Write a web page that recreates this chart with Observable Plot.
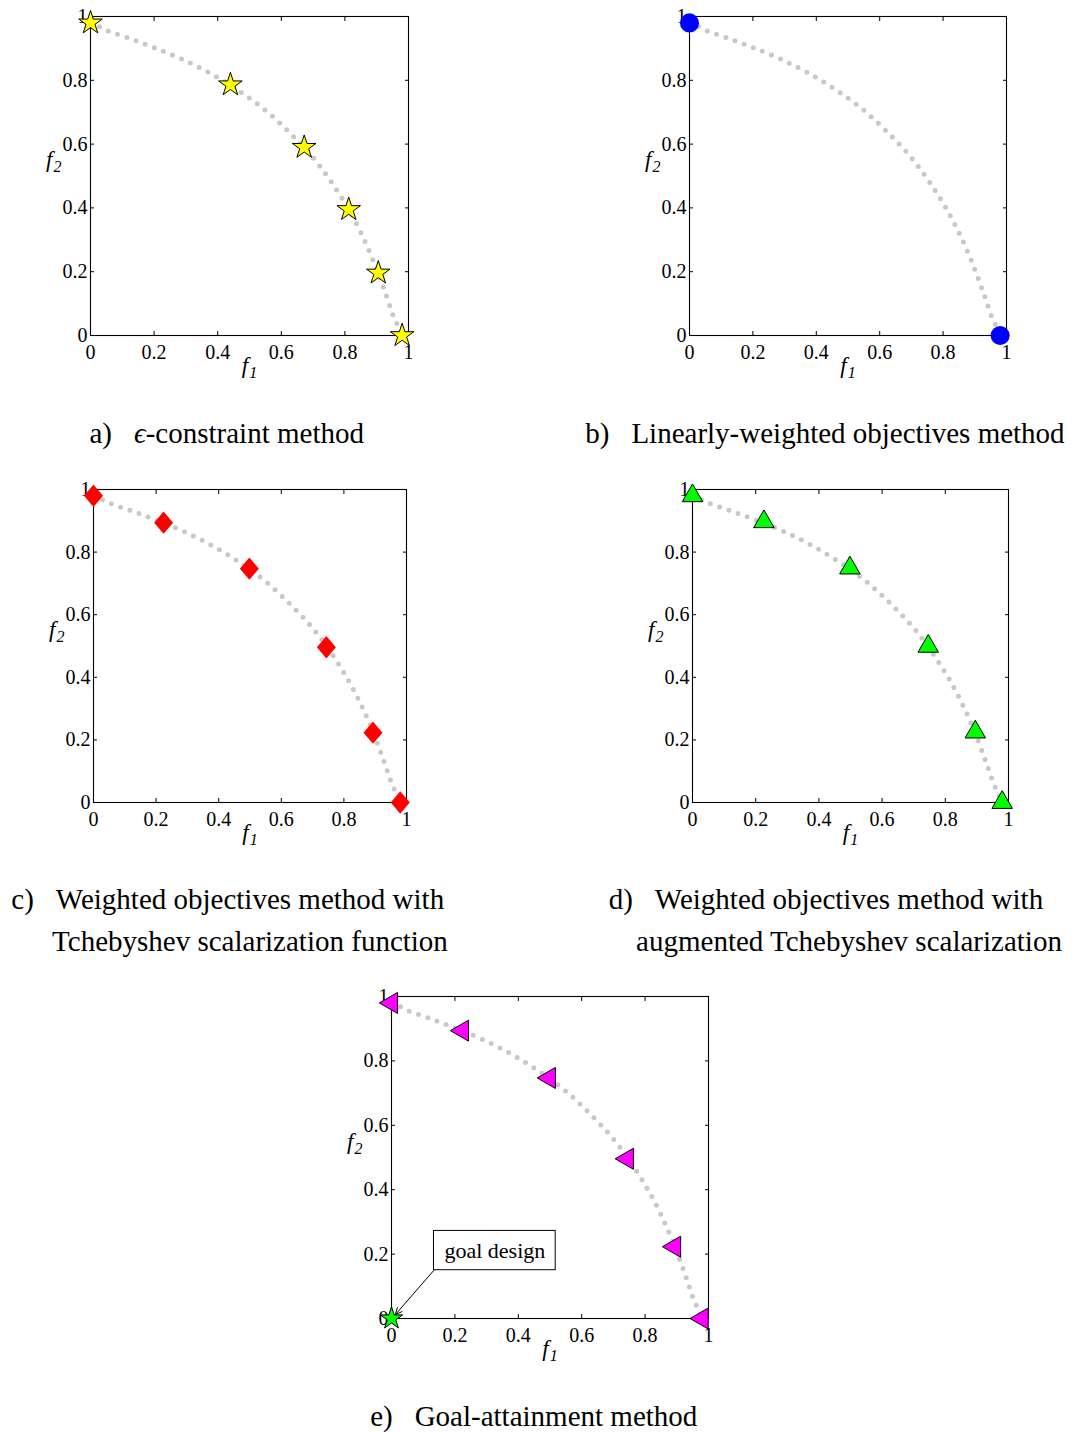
<!DOCTYPE html>
<html><head><meta charset="utf-8">
<script src="https://cdn.jsdelivr.net/npm/d3@7"></script>
<script src="https://cdn.jsdelivr.net/npm/@observablehq/plot@0.6"></script>
<style>
html,body{margin:0;padding:0;background:#fff;}
#page{position:relative;width:1075px;height:1432px;overflow:hidden;font-family:"Liberation Serif",serif;color:#000;}
.panel{position:absolute;}
.panel svg{overflow:visible;}
.cap{position:absolute;width:600px;text-align:center;font-size:29px;line-height:42px;}
.line{position:relative;display:inline-block;white-space:nowrap;}
.lab{position:absolute;right:100%;margin-right:22px;}
</style></head><body><div id="page"></div>
<script>
// ---- data ----
const tickValues = [0, 0.2, 0.4, 0.6, 0.8, 1];
// Pareto front (grey dotted curve)
const frontF1 = [0, 0.028, 0.055, 0.126, 0.199, 0.284, 0.373, 0.462, 0.550, 0.631, 0.706, 0.770, 0.824, 0.868, 0.903, 0.930, 0.955, 0.968, 0.98];
const frontF2 = [0.98, 0.968, 0.955, 0.930, 0.903, 0.868, 0.824, 0.770, 0.706, 0.631, 0.550, 0.462, 0.373, 0.284, 0.199, 0.126, 0.055, 0.028, 0];
// a) epsilon-constraint
const epsF1 = [0, 0.44, 0.672, 0.812, 0.905, 0.98];
const epsF2 = [0.98, 0.786, 0.59, 0.395, 0.196, 0];
// b) linearly weighted
const linF1 = [0, 0.98];
const linF2 = [0.98, 0];
// c) Tchebyshev
const tchF1 = [0, 0.224, 0.498, 0.744, 0.893, 0.98];
const tchF2 = [0.98, 0.894, 0.747, 0.496, 0.223, 0];
// d) augmented Tchebyshev
const augF1 = [0, 0.226, 0.498, 0.746, 0.895, 0.98];
const augF2 = [0.98, 0.897, 0.749, 0.499, 0.225, 0];
// e) goal attainment
const goalF1 = [0, 0.224, 0.498, 0.744, 0.893, 0.98];
const goalF2 = [0.98, 0.894, 0.747, 0.496, 0.223, 0];
const goalDesignF1 = [0];
const goalDesignF2 = [0];
const goalBoxF1 = [0.134, 0.518];
const goalBoxF2 = [0.15, 0.272];
const goalArrowF1 = [0.134, 0.012];
const goalArrowF2 = [0.15, 0.012];
const goalLabel = "goal design";
const captions = {
  a: ["<i>ϵ</i>-constraint method"],
  b: ["Linearly-weighted objectives method"],
  c: ["Weighted objectives method with", "Tchebyshev scalarization function"],
  d: ["Weighted objectives method with", "augmented Tchebyshev scalarization"],
  e: ["Goal-attainment method"]
};

// ---- helpers ----
const zip = (xs, ys) => xs.map((x, i) => ({f1: x, f2: ys[i]}));
const front = zip(frontF1, frontF2);
const diamondSym = {draw(ctx, size) {const h = Math.sqrt(size) * 0.6, w = h * 0.85; ctx.moveTo(0, -h); ctx.lineTo(w, 0); ctx.lineTo(0, h); ctx.lineTo(-w, 0); ctx.closePath();}};

const ML = 70, MR = 20, MT = 15, MB = 60;
const page = document.getElementById("page");

function panel(pos, markerMarks) {
  const {left, top, w, h} = pos;
  const svg = Plot.plot({
    width: ML + w + MR, height: MT + h + MB,
    marginLeft: ML, marginRight: MR, marginTop: MT, marginBottom: MB,
    x: {domain: [0, 1]}, y: {domain: [0, 1]},
    style: {fontFamily: "Liberation Serif", fontSize: "20px", color: "#000", background: "transparent"},
    marks: [
      Plot.frame({stroke: "#000", strokeWidth: 1.1}),
      Plot.axisX({ticks: tickValues, tickSize: -4, tickPadding: 13, tickFormat: d => String(d), label: null, fontSize: 20}),
      Plot.axisX({anchor: "top", ticks: tickValues, tickSize: -4, tickFormat: () => "", label: null}),
      Plot.axisY({ticks: tickValues, tickSize: -4, tickPadding: 7, tickFormat: d => String(d), label: null, fontSize: 20}),
      Plot.axisY({anchor: "right", ticks: tickValues, tickSize: -4, tickFormat: () => "", label: null}),
      Plot.line(front, {x: "f1", y: "f2", stroke: "#c8c8c8", strokeWidth: 5, strokeDasharray: "0 9.8", strokeLinecap: "round", curve: "catmull-rom"}),
      ...markerMarks,
      Plot.text(["f1"], {text: d => d, frameAnchor: "bottom", dy: 37, fontSize: 23, fontStyle: "italic"}),
      Plot.text(["f2"], {text: d => d, frameAnchor: "left", dx: -29, dy: -16, textAnchor: "end", fontSize: 23, fontStyle: "italic"})
    ]
  });
  d3.select(svg).selectAll("text").each(function () {
    const t = this.textContent;
    if (t === "f1" || t === "f2") {
      this.textContent = "f";
      d3.select(this).append("tspan").attr("dx", 1).attr("dy", "0.32em").attr("font-size", 16).text(t[1]);
    }
  });
  const div = document.createElement("div");
  div.className = "panel";
  div.style.left = (left - ML) + "px";
  div.style.top = (top - MT) + "px";
  div.appendChild(svg);
  page.appendChild(div);
}

function caption(label, lines, center, top) {
  const div = document.createElement("div");
  div.className = "cap";
  div.style.left = (center - 300) + "px";
  div.style.top = top + "px";
  div.innerHTML = lines.map((l, i) => `<div><span class="line">${i === 0 ? `<span class="lab">${label}</span>` : ""}${l}</span></div>`).join("");
  page.appendChild(div);
}

// a
panel({left: 90, top: 16, w: 318, h: 319}, [
  Plot.dot(zip(epsF1, epsF2), {x: "f1", y: "f2", symbol: "star", r: 7.4, fill: "#ffff00", stroke: "#000", strokeWidth: 1})
]);
// b
panel({left: 689, top: 16, w: 317, h: 319}, [
  Plot.dot(zip(linF1, linF2), {x: "f1", y: "f2", r: 8.8, fill: "#0000ff", stroke: "#0000ff"})
]);
// c
panel({left: 93, top: 489, w: 313, h: 313}, [
  Plot.dot(zip(tchF1, tchF2), {x: "f1", y: "f2", symbol: diamondSym, r: 9.4, fill: "#ff0000", stroke: "#ff0000"})
]);
// d
panel({left: 692, top: 489, w: 316, h: 313}, [
  Plot.dot(zip(augF1, augF2), {x: "f1", y: "f2", symbol: "triangle", r: 7.6, fill: "#00ff00", stroke: "#000", strokeWidth: 1})
]);
// e
panel({left: 391, top: 996, w: 317, h: 322}, [
  Plot.dot(zip(goalF1, goalF2), {x: "f1", y: "f2", symbol: "triangle", rotate: -90, r: 7.8, fill: "#ff00ff", stroke: "#000", strokeWidth: 1}),
  Plot.rect([0], {x1: () => goalBoxF1[0], x2: () => goalBoxF1[1], y1: () => goalBoxF2[0], y2: () => goalBoxF2[1], fill: "#fff", stroke: "#000", strokeWidth: 1}),
  Plot.text([goalLabel], {text: d => d, x: () => (goalBoxF1[0] + goalBoxF1[1]) / 2, y: () => (goalBoxF2[0] + goalBoxF2[1]) / 2, fontSize: 22, fontFamily: "Liberation Serif"}),
  Plot.arrow([0], {x1: () => goalArrowF1[0], y1: () => goalArrowF2[0], x2: () => goalArrowF1[1], y2: () => goalArrowF2[1], stroke: "#000", strokeWidth: 1, headLength: 11, headAngle: 50}),
  Plot.dot(zip(goalDesignF1, goalDesignF2), {x: "f1", y: "f2", symbol: "star", r: 7, fill: "#00ff00", stroke: "#000", strokeWidth: 1})
]);

caption("a)", captions.a, 249, 412);
caption("b)", captions.b, 848, 412);
caption("c)", captions.c, 250, 878);
caption("d)", captions.d, 849, 878);
caption("e)", captions.e, 556, 1395);
</script>
</body></html>
